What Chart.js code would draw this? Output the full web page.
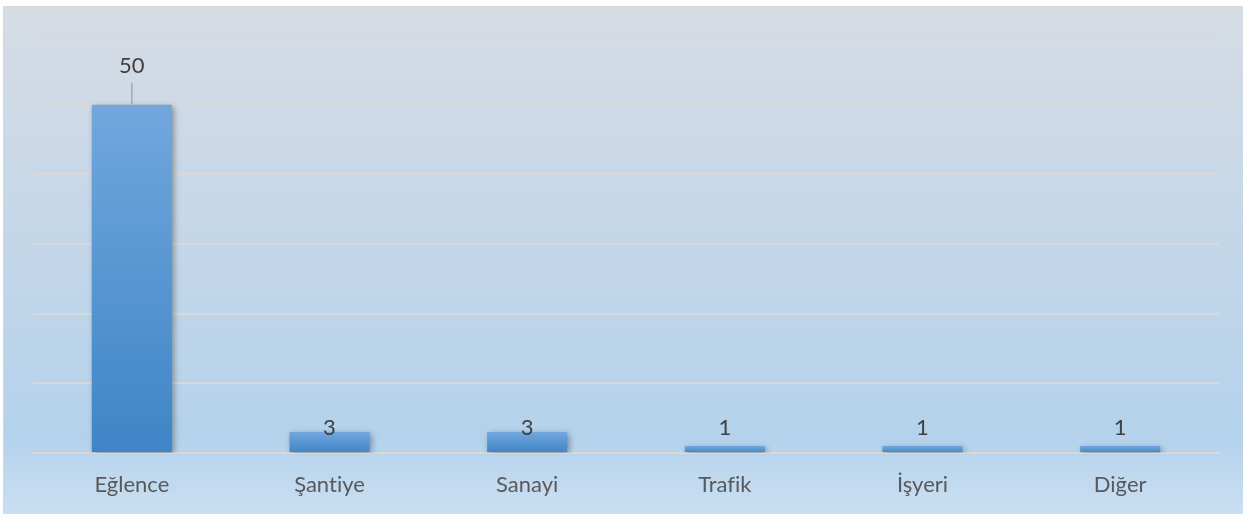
<!DOCTYPE html>
<html>
<head>
<meta charset="utf-8">
<script src="https://cdn.jsdelivr.net/npm/chart.js@4"></script>
<style>
  html, body { margin: 0; padding: 0; background: #fff; }
  canvas { display: block; }
</style>
</head>
<body>
<canvas id="grafico" width="1243" height="514"></canvas>
<script>
  // Dados do gráfico
  const categorias = ['Eğlence', 'Şantiye', 'Sanayi', 'Trafik', 'İşyeri', 'Diğer'];
  const valores = [50, 3, 3, 1, 1, 1];
  const eixoMax = 60;
  const eixoPasso = 10;

  const fonte = 'Lato, Carlito, Calibri, sans-serif';

  // Fundo em degradê com borda fina
  const fundoPlugin = {
    id: 'fundo',
    beforeDraw(chart) {
      const ctx = chart.ctx;
      // evita a ligadura "fi" do Lato
      ctx.letterSpacing = '0.01px';
      ctx.save();
      ctx.fillStyle = '#ffffff';
      ctx.fillRect(0, 0, chart.width, chart.height);
      const g = ctx.createLinearGradient(0, 6, 0, chart.height);
      g.addColorStop(0, '#d6dce4');
      g.addColorStop(0.85, '#b4d2ec');
      g.addColorStop(1, '#cadff2');
      ctx.fillStyle = g;
      ctx.fillRect(4, 6, chart.width - 4, chart.height - 6);
      ctx.strokeStyle = '#d9d9d9';
      ctx.lineWidth = 1;
      ctx.strokeRect(3.5, 6.5, chart.width, chart.height);
      ctx.restore();
    }
  };

  // Sombra das barras
  const sombraPlugin = {
    id: 'sombra',
    beforeDatasetsDraw(chart) {
      const ctx = chart.ctx;
      ctx.save();
      ctx.shadowColor = 'rgba(0, 0, 0, 0.35)';
      ctx.shadowBlur = 6;
      ctx.shadowOffsetX = 2;
      ctx.shadowOffsetY = 2;
    },
    afterDatasetsDraw(chart) {
      chart.ctx.restore();
    }
  };

  // Rótulos de dados (o maior com linha de chamada)
  const rotulosPlugin = {
    id: 'rotulos',
    afterDatasetsDraw(chart) {
      const ctx = chart.ctx;
      const meta = chart.getDatasetMeta(0);
      const base = chart.scales.y.getPixelForValue(0);
      ctx.save();
      ctx.font = '22px ' + fonte;
      ctx.fillStyle = '#404040';
      ctx.textAlign = 'center';
      ctx.textBaseline = 'alphabetic';
      meta.data.forEach((bar, i) => {
        const v = valores[i];
        let y;
        if (v >= 10) {
          y = bar.y - 32;
          ctx.strokeStyle = '#a6a6a6';
          ctx.lineWidth = 1.5;
          ctx.beginPath();
          ctx.moveTo(bar.x, bar.y - 22);
          ctx.lineTo(bar.x, bar.y);
          ctx.stroke();
        } else {
          y = base - 18;
        }
        ctx.fillText(String(v), bar.x, y);
      });
      ctx.restore();
    }
  };

  function corBarra(context) {
    const chart = context.chart;
    const escala = chart.scales.y;
    if (!escala || !chart.chartArea) return '#5b9bd5';
    const topo = escala.getPixelForValue(valores[context.dataIndex]);
    const base = escala.getPixelForValue(0);
    const g = chart.ctx.createLinearGradient(0, topo, 0, base);
    g.addColorStop(0, '#71a7dd');
    g.addColorStop(1, '#3e85c7');
    return g;
  }

  new Chart(document.getElementById('grafico'), {
    type: 'bar',
    data: {
      labels: categorias,
      datasets: [{
        data: valores,
        backgroundColor: corBarra,
        borderWidth: 0,
        categoryPercentage: 0.405,
        barPercentage: 1
      }]
    },
    plugins: [fundoPlugin, sombraPlugin, rotulosPlugin],
    options: {
      responsive: false,
      animation: false,
      layout: { padding: { left: 33, right: 24, top: 35, bottom: 0 } },
      plugins: {
        legend: { display: false },
        tooltip: { enabled: false }
      },
      scales: {
        x: {
          grid: { display: false, drawTicks: false },
          border: { display: true, color: '#d9d9d9', width: 2 },
          ticks: {
            color: '#595959',
            font: { family: fonte, size: 22 },
            padding: 19
          },
          afterFit(s) { s.height = 61; }
        },
        y: {
          min: 0,
          max: eixoMax,
          ticks: { display: false, stepSize: eixoPasso },
          grid: { color: '#d9d9d9', lineWidth: 2, drawTicks: false },
          border: { display: false }
        }
      }
    }
  });
</script>
</body>
</html>
